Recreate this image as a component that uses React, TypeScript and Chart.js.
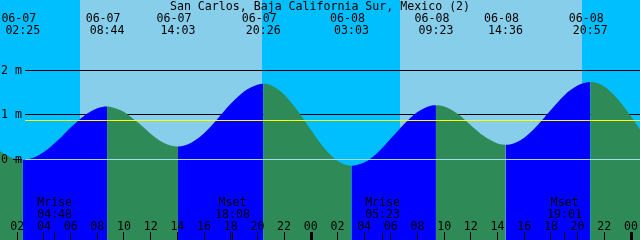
import React, { useEffect, useRef } from 'react';
import { Chart, registerables } from 'chart.js';

Chart.register(...registerables);

// ---------- data ----------
const TITLE = 'San Carlos, Baja California Sur, Mexico (2)';
const dayDates = ['06-07', '06-08'];

// hours since 06-07 00:00, tide height (m)
const hourlyHours = [
  0, 1, 2, 3, 4, 5, 6, 7, 8, 9, 10, 11, 12, 13, 14, 15, 16, 17, 18, 19, 20, 21, 22, 23, 24,
  25, 26, 27, 28, 29, 30, 31, 32, 33, 34, 35, 36, 37, 38, 39, 40, 41, 42, 43, 44, 45, 46, 47, 48, 49,
];
const hourlyHeights = [
  0.36, 0.13, 0.0, 0.02, 0.17, 0.42, 0.72, 0.98, 1.15, 1.18, 1.07, 0.84, 0.58, 0.37, 0.29, 0.37,
  0.59, 0.91, 1.25, 1.53, 1.68, 1.67, 1.46, 1.1, 0.67, 0.26, -0.03, -0.14, -0.07, 0.15, 0.47, 0.8,
  1.07, 1.21, 1.19, 1.03, 0.77, 0.52, 0.36, 0.34, 0.49, 0.77, 1.11, 1.44, 1.66, 1.74, 1.64, 1.36,
  0.97, 0.53,
];

// high / low tide events
const tideDay = [0, 0, 0, 0, 1, 1, 1, 1];
const tideTimes = ['02:25', '08:44', '14:03', '20:26', '03:03', '09:23', '14:36', '20:57'];
const tideHeights = [-0.01, 1.19, 0.29, 1.7, -0.14, 1.22, 0.33, 1.74];

// moon events
const moonLabels = ['Mrise', 'Mset', 'Mrise', 'Mset'];
const moonDay = [0, 0, 1, 1];
const moonTimes = ['04:48', '18:08', '05:23', '19:01'];

// daylight
const sunDay = [0, 1];
const sunriseTimes = ['06:42', '06:41'];
const sunsetTimes = ['20:20', '20:20'];

const depthTicks = [0, 1, 2];
const meanLevel = 0.88;
const hourTicks = [2, 4, 6, 8, 10, 12, 14, 16, 18, 20, 22, 24, 26, 28, 30, 32, 34, 36, 38, 40, 42, 44, 46, 48];

// axis window
const X_MIN = 0.705;
const X_MAX = 48.68;
const Y_MIN = -1.809;
const Y_MAX = 3.584;

// ---------- style ----------
const NIGHT = '#00BFFF';
const DAY = '#87CEEB';
const RISE = '#0000FF';
const FALL = '#2E8B57';
const ZERO = '#A5DCEF';
const MEAN = '#FFFF00';
const FONT = '11.6px "DejaVu Sans Mono", monospace';

const toHours = (day: number, t: string) => {
  const [h, m] = t.split(':').map(Number);
  return day * 24 + h + m / 60;
};
const pad2 = (n: number) => (n < 10 ? '0' + n : '' + n);

const tidePoints = [
  ...hourlyHours.map((h, i) => ({ x: h, y: hourlyHeights[i] })),
  ...tideTimes.map((t, i) => ({ x: toHours(tideDay[i], t), y: tideHeights[i] })),
].sort((a, b) => a.x - b.x);

const decor = {
  id: 'tideDecor',
  beforeDatasetsDraw(chart: any) {
    const { ctx, width, height } = chart;
    const { x, y } = chart.scales;
    ctx.save();
    ctx.fillStyle = NIGHT;
    ctx.fillRect(0, 0, width, height);
    ctx.fillStyle = DAY;
    sunDay.forEach((d, i) => {
      const x0 = Math.round(x.getPixelForValue(toHours(d, sunriseTimes[i])));
      const x1 = Math.round(x.getPixelForValue(toHours(d, sunsetTimes[i])));
      ctx.fillRect(x0, 0, x1 - x0, height);
    });
    ctx.fillStyle = '#000';
    depthTicks.filter((d) => d !== 0).forEach((d) => {
      const row = Math.floor(y.getPixelForValue(d));
      ctx.fillRect(25, row, width - 25, 1);
    });
    ctx.restore();
  },
  afterDatasetsDraw(chart: any) {
    const { ctx, width } = chart;
    const { x, y } = chart.scales;
    ctx.save();
    const row0 = Math.floor(y.getPixelForValue(0));
    ctx.fillStyle = ZERO;
    ctx.fillRect(25, row0, width - 25, 1);
    const rowM = Math.floor(y.getPixelForValue(meanLevel));
    ctx.fillStyle = MEAN;
    ctx.fillRect(25, rowM, width - 25, 1);

    ctx.fillStyle = '#000';
    ctx.font = FONT;
    ctx.textBaseline = 'alphabetic';

    // depth labels
    ctx.textAlign = 'left';
    depthTicks.forEach((d) => {
      const row = Math.floor(y.getPixelForValue(d));
      ctx.fillText(`${d} m`, 1, row + 4);
    });
    ctx.fillRect(13, row0, 9, 1);

    // title
    ctx.textAlign = 'center';
    ctx.fillText(TITLE, 320, 10);

    // tide events
    tideTimes.forEach((t, i) => {
      const px = x.getPixelForValue(toHours(tideDay[i], t));
      ctx.fillText(dayDates[tideDay[i]], px - 4, 22);
      ctx.fillText(t, px, 34);
    });

    // moon events
    moonTimes.forEach((t, i) => {
      const px = x.getPixelForValue(toHours(moonDay[i], t));
      ctx.fillText(moonLabels[i], px, 206);
      ctx.fillText(t, px, 218);
      ctx.fillRect(Math.floor(px), 232, 1, 8);
    });

    // hour ticks
    hourTicks.forEach((h) => {
      const px = x.getPixelForValue(h);
      ctx.fillText(pad2(h % 24), px, 230);
      if (h % 24 === 0) ctx.fillRect(Math.round(px) - 1, 232, 3, 8);
      else ctx.fillRect(Math.floor(px), 232, 1, 8);
    });
    ctx.restore();
  },
};

export default function App() {
  const ref = useRef<HTMLCanvasElement>(null);
  useEffect(() => {
    document.body.style.margin = '0';
    const chart = new Chart(ref.current as HTMLCanvasElement, {
      type: 'line',
      data: {
        datasets: [
          {
            data: tidePoints,
            fill: 'start',
            backgroundColor: FALL,
            borderColor: 'rgba(0,0,0,0)',
            borderWidth: 0,
            pointRadius: 0,
            cubicInterpolationMode: 'monotone',
            segment: {
              backgroundColor: (c: any) => (c.p1.parsed.y > c.p0.parsed.y ? RISE : FALL),
            },
          } as any,
        ],
      },
      options: {
        responsive: false,
        maintainAspectRatio: false,
        animation: false,
        devicePixelRatio: 1,
        layout: { padding: 0 },
        plugins: { legend: { display: false }, tooltip: { enabled: false }, title: { display: false } },
        scales: {
          x: { type: 'linear', display: false, min: X_MIN, max: X_MAX },
          y: { type: 'linear', display: false, min: Y_MIN, max: Y_MAX },
        },
      },
      plugins: [decor],
    });
    return () => chart.destroy();
  }, []);
  return (
    <div style={{ width: 640, height: 240 }}>
      <canvas ref={ref} width={640} height={240} style={{ display: 'block' }} />
    </div>
  );
}
